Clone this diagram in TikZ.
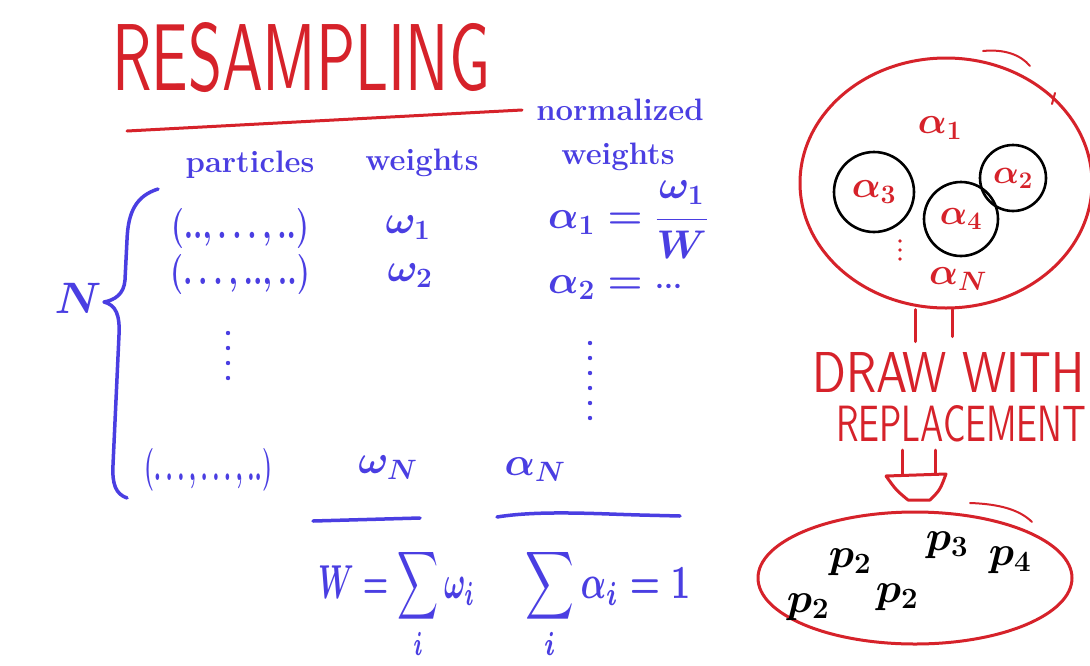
\RequirePackage{fix-cm}
\documentclass[tikz,border=0pt]{standalone}
\usepackage{graphicx}
\usetikzlibrary{shapes.geometric}
\definecolor{mred}{RGB}{214,34,42}
\definecolor{mblue}{RGB}{74,62,226}
\newcommand{\fsz}[1]{\fontsize{#1}{#1}\selectfont\boldmath}
\newcommand{\lowi}{\raisebox{4pt}{$\scriptstyle i$}}
\tikzset{
  btext/.style={text=mblue, inner sep=0pt},
  rtext/.style={text=mred, inner sep=0pt},
  ktext/.style={text=black, inner sep=0pt, font=\fsz{42}},
  redstroke/.style={draw=mred, line width=3pt, line cap=round, line join=round},
  bluestroke/.style={draw=mblue, line width=3.5pt, line cap=round, line join=round},
  ring/.style={circle, draw=black, line width=2.6pt, inner sep=0pt, text=mred},
  hdr/.style={btext, font=\fsz{31}\bfseries},
  tmath/.style={btext, font=\fsz{40}},
  bigoval/.style={ellipse, draw=mred, line width=3pt, inner sep=0pt},
}
\begin{document}
\begin{tikzpicture}[x=1pt,y=-1pt]
\useasboundingbox (0,0) rectangle (1090,665);
\fill[white] (0,0) rectangle (1090,665);
\clip (0,0) rectangle (1090,665);

% title
\node[rtext] (title) at (301,58) {\resizebox{378pt}{68pt}{\sffamily RESAMPLING}};
\draw[redstroke] (127,131) -- (522,110);

% headers
\node[hdr] (hpart) at (250,165) {particles};
\node[hdr] (hw) at (422,163) {weights};
\node[hdr] (hnorm) at (620,110) {normalized};
\node[hdr] (hnw) at (618,157) {weights};

% N and brace
\node[btext, font=\fsz{44}] (N) at (78,298) {$N$};
\draw[bluestroke] (158,189) .. controls (136,196) and (128,212) .. (127,240) -- (125,280)
  .. controls (124,294) and (115,300) .. (104,302)
  .. controls (116,305) and (120,315) .. (119,335) -- (113,465)
  .. controls (112,485) and (116,494) .. (127,498);

% rows
\node[tmath] (p1) at (240,228) {\resizebox{138pt}{30pt}{$(..,\ldots,..)$}};
\node[tmath] (p2) at (240,274) {\resizebox{140pt}{30pt}{$(\ldots,..,..)$}};
\node[tmath] (pN) at (208,470) {\resizebox{128pt}{32pt}{$(\ldots,\ldots,..)$}};
\node[tmath] (w1) at (408,228) {$\omega_1$};
\node[tmath] (w2) at (410,276) {$\omega_2$};
\node[tmath] (wN) at (388,468) {$\omega_N$};
\node[tmath] (a1) at (628,220) {$\alpha_1=\displaystyle\frac{\omega_1}{W}$};
\node[tmath, anchor=base west] (a2) at (548,293) {$\alpha_2=\mathrel{}{\scriptstyle\cdots}$};
\node[tmath] (aN) at (535,470) {$\alpha_N$};
\foreach \y in {333,348,363,378} \fill[mblue] (228,\y) circle (2.2pt);
\foreach \y in {343,358,373,388,403,418} \fill[mblue] (590,\y) circle (2.2pt);

% sums
\draw[bluestroke] (313,521) -- (420,518);
\draw[bluestroke] (497,517) .. controls (540,510) and (600,514) .. (640,515) -- (680,516);
\node[btext, anchor=base west] (sumW) at (318,598) {\resizebox{157pt}{50pt}{\boldmath$\displaystyle W=\sum_{\lowi}\omega_i$}};
\node[btext, anchor=base west] (sumA) at (525,598) {\resizebox{165pt}{50pt}{\boldmath$\displaystyle \sum_{\lowi}\alpha_i=1$}};

% pool of particles
\node[bigoval, minimum width=292pt, minimum height=250pt] (pool) at (946,183) {};
\draw[redstroke, line width=2pt] (983,51) .. controls (1003,49) and (1020,54) .. (1030,66);
\draw[redstroke, line width=2pt] (1055,93) -- (1052,104);
\node[rtext, font=\fsz{38}] (al1) at (940,128) {$\alpha_1$};
\node[ring, minimum size=80pt, font=\fsz{38}] (c3) at (874,192) {$\alpha_3$};
\node[ring, minimum size=74pt, font=\fsz{36}] (c4) at (961,219) {$\alpha_4$};
\node[ring, minimum size=66pt, font=\fsz{34}] (c2) at (1013,178) {$\alpha_2$};
\foreach \y in {241,250,259} \fill[mred] (900,\y) circle (1.8pt);
\node[rtext, font=\fsz{38}] (alN) at (958,279) {$\alpha_N$};

% draw with replacement
\node[rtext, anchor=base west] (drawtxt) at (812,392) {\resizebox{272pt}{40pt}{\sffamily DRAW WITH}};
\node[rtext, anchor=base west] (repltxt) at (836,441) {\resizebox{250pt}{36pt}{\sffamily REPLACEMENT}};
\draw[redstroke] ([xshift=-31pt]pool.south) -- ++(0,32);
\draw[redstroke] ([xshift=6pt]pool.south) -- ++(0,27);

% arrow down
\draw[redstroke] (902,450) -- (902,475);
\draw[redstroke] (935,450) -- (935,473);
\draw[redstroke] (886,476) -- (946,474) .. controls (940,490) .. (930,500) -- (908,500) .. controls (896,490) .. (886,476);

% resampled set
\node[bigoval, minimum width=314pt, minimum height=132pt] (out) at (915,578) {};
\draw[redstroke, line width=2pt] (970,503) .. controls (1000,504) and (1020,510) .. (1032,522);
\node[ktext] (q1) at (808,607) {$p_2$};
\node[ktext] (q2) at (850,562) {$p_2$};
\node[ktext] (q3) at (897,597) {$p_2$};
\node[ktext] (q4) at (947,545) {$p_3$};
\node[ktext] (q5) at (1010,560) {$p_4$};
\end{tikzpicture}
\end{document}
